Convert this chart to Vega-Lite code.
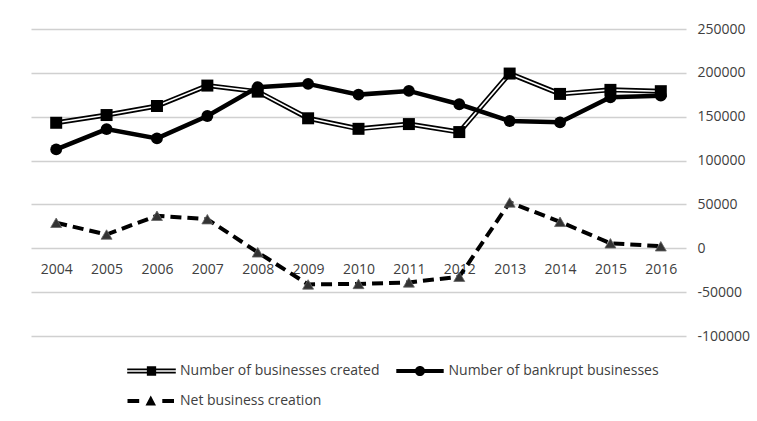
{
  "$schema": "https://vega.github.io/schema/vega-lite/v6.json",
  "autosize": {"type": "none"},
  "padding": {"left": 31, "top": 29, "right": 71, "bottom": 85},
  "width": 655,
  "height": 307,
  "background": "white",
  "config": {
    "view": {"stroke": null},
    "font": "Open Sans",
    "axis": {"labelFont": "Open Sans", "labelFontSize": 14, "labelColor": "#404040"},
    "legend": {"labelFont": "Open Sans", "labelFontSize": 14, "labelColor": "#404040"}
  },
  "data": {
    "values": [
      {"year": "2004", "series": "Number of businesses created", "value": 143100},
      {"year": "2005", "series": "Number of businesses created", "value": 151900},
      {"year": "2006", "series": "Number of businesses created", "value": 162200},
      {"year": "2007", "series": "Number of businesses created", "value": 185500},
      {"year": "2008", "series": "Number of businesses created", "value": 178600},
      {"year": "2009", "series": "Number of businesses created", "value": 148200},
      {"year": "2010", "series": "Number of businesses created", "value": 136200},
      {"year": "2011", "series": "Number of businesses created", "value": 141600},
      {"year": "2012", "series": "Number of businesses created", "value": 132500},
      {"year": "2013", "series": "Number of businesses created", "value": 199200},
      {"year": "2014", "series": "Number of businesses created", "value": 176000},
      {"year": "2015", "series": "Number of businesses created", "value": 180600},
      {"year": "2016", "series": "Number of businesses created", "value": 179100},
      {"year": "2004", "series": "Number of bankrupt businesses", "value": 112700},
      {"year": "2005", "series": "Number of bankrupt businesses", "value": 135900},
      {"year": "2006", "series": "Number of bankrupt businesses", "value": 125300},
      {"year": "2007", "series": "Number of bankrupt businesses", "value": 150800},
      {"year": "2008", "series": "Number of bankrupt businesses", "value": 183700},
      {"year": "2009", "series": "Number of bankrupt businesses", "value": 187400},
      {"year": "2010", "series": "Number of bankrupt businesses", "value": 175200},
      {"year": "2011", "series": "Number of bankrupt businesses", "value": 179400},
      {"year": "2012", "series": "Number of bankrupt businesses", "value": 164200},
      {"year": "2013", "series": "Number of bankrupt businesses", "value": 145100},
      {"year": "2014", "series": "Number of bankrupt businesses", "value": 143600},
      {"year": "2015", "series": "Number of bankrupt businesses", "value": 172200},
      {"year": "2016", "series": "Number of bankrupt businesses", "value": 174000},
      {"year": "2004", "series": "Net business creation", "value": 29100},
      {"year": "2005", "series": "Net business creation", "value": 15700},
      {"year": "2006", "series": "Net business creation", "value": 37100},
      {"year": "2007", "series": "Net business creation", "value": 33200},
      {"year": "2008", "series": "Net business creation", "value": -4600},
      {"year": "2009", "series": "Net business creation", "value": -41200},
      {"year": "2010", "series": "Net business creation", "value": -40600},
      {"year": "2011", "series": "Net business creation", "value": -38900},
      {"year": "2012", "series": "Net business creation", "value": -32400},
      {"year": "2013", "series": "Net business creation", "value": 52300},
      {"year": "2014", "series": "Net business creation", "value": 30200},
      {"year": "2015", "series": "Net business creation", "value": 5700},
      {"year": "2016", "series": "Net business creation", "value": 2300}
    ]
  },
  "encoding": {
    "x": {
      "field": "year", "type": "ordinal",
      "scale": {"type": "point", "padding": 0.5},
      "axis": {
        "orient": "bottom", "offset": -88.3, "domain": false, "ticks": false,
        "labelAngle": 0, "labelBaseline": "middle", "labelPadding": 22, "title": null, "grid": false
      }
    },
    "y": {
      "field": "value", "type": "quantitative",
      "scale": {"domain": [-100000, 250000], "nice": false, "zero": false},
      "axis": {
        "orient": "right", "values": [-100000, -50000, 0, 50000, 100000, 150000, 200000, 250000],
        "labelExpr": "'' + datum.value", "domain": false, "ticks": false,
        "labelPadding": 11, "labelAlign": "left", "title": null,
        "grid": true, "gridColor": "#d0d0d0", "gridWidth": 1.3
      }
    }
  },
  "layer": [
    {
      "mark": {"type": "point", "filled": true, "opacity": 0},
      "encoding": {
        "color": {
          "field": "series", "type": "nominal",
          "scale": {
            "domain": ["Number of businesses created", "Number of bankrupt businesses", "Net business creation"],
            "range": ["black", "black", "black"]
          },
          "legend": {
            "title": null,
            "orient": "none",
            "legendX": 105.5,
            "legendY": 327,
            "columns": 2,
            "direction": "horizontal",
            "padding": 0,
            "rowPadding": 8,
            "columnPadding": 16.5,
            "labelOffset": 13.5,
            "labelLimit": 400,
            "symbolSize": 900,
            "symbolStrokeWidth": 0,
            "symbolOpacity": 1,
            "encode": {
              "symbols": {
                "update": {
                  "shape": {"signal": "datum.value === 'Number of businesses created' ? 'M-1.62,-0.167H1.62V-0.05H-1.62Z M-1.62,0.05H1.62V0.167H-1.62Z M-0.31,-0.31H0.31V0.31H-0.31Z' : datum.value === 'Number of bankrupt businesses' ? 'M-1.58,-0.13H1.58V0.13H-1.58Z M0.34,0A0.34,0.34 0 1,1 -0.34,0A0.34,0.34 0 1,1 0.34,0Z' : 'M-1.6,-0.13H-0.82V0.13H-1.6Z M0.72,-0.13H1.5V0.13H0.72Z M-0.05,-0.36L0.3,0.3L-0.4,0.3Z'"},
                  "size": {"value": 900},
                  "fill": {"value": "black"},
                  "strokeWidth": {"value": 0},
                  "opacity": {"value": 1}
                }
              }
            }
          }
        }
      }
    },
    {
      "transform": [{"filter": "datum.series === 'Number of businesses created'"}],
      "mark": {"type": "line", "stroke": "black", "strokeWidth": 5}
    },
    {
      "transform": [{"filter": "datum.series === 'Number of businesses created'"}],
      "mark": {"type": "line", "stroke": "white", "strokeWidth": 1.6}
    },
    {
      "transform": [{"filter": "datum.series === 'Number of businesses created'"}],
      "mark": {"type": "point", "shape": "square", "filled": true, "fill": "black", "opacity": 1, "size": 144}
    },
    {
      "transform": [{"filter": "datum.series === 'Number of bankrupt businesses'"}],
      "mark": {"type": "line", "stroke": "black", "strokeWidth": 4.5}
    },
    {
      "transform": [{"filter": "datum.series === 'Number of bankrupt businesses'"}],
      "mark": {"type": "point", "shape": "circle", "filled": true, "fill": "black", "opacity": 1, "size": 140}
    },
    {
      "transform": [{"filter": "datum.series === 'Net business creation'"}],
      "mark": {"type": "line", "stroke": "black", "strokeWidth": 4, "strokeDash": [11, 6]}
    },
    {
      "transform": [{"filter": "datum.series === 'Net business creation'"}],
      "mark": {"type": "point", "shape": "triangle-up", "filled": true, "fill": "#333333", "stroke": "#666666", "strokeWidth": 0.8, "opacity": 1, "size": 120}
    }
  ]
}
